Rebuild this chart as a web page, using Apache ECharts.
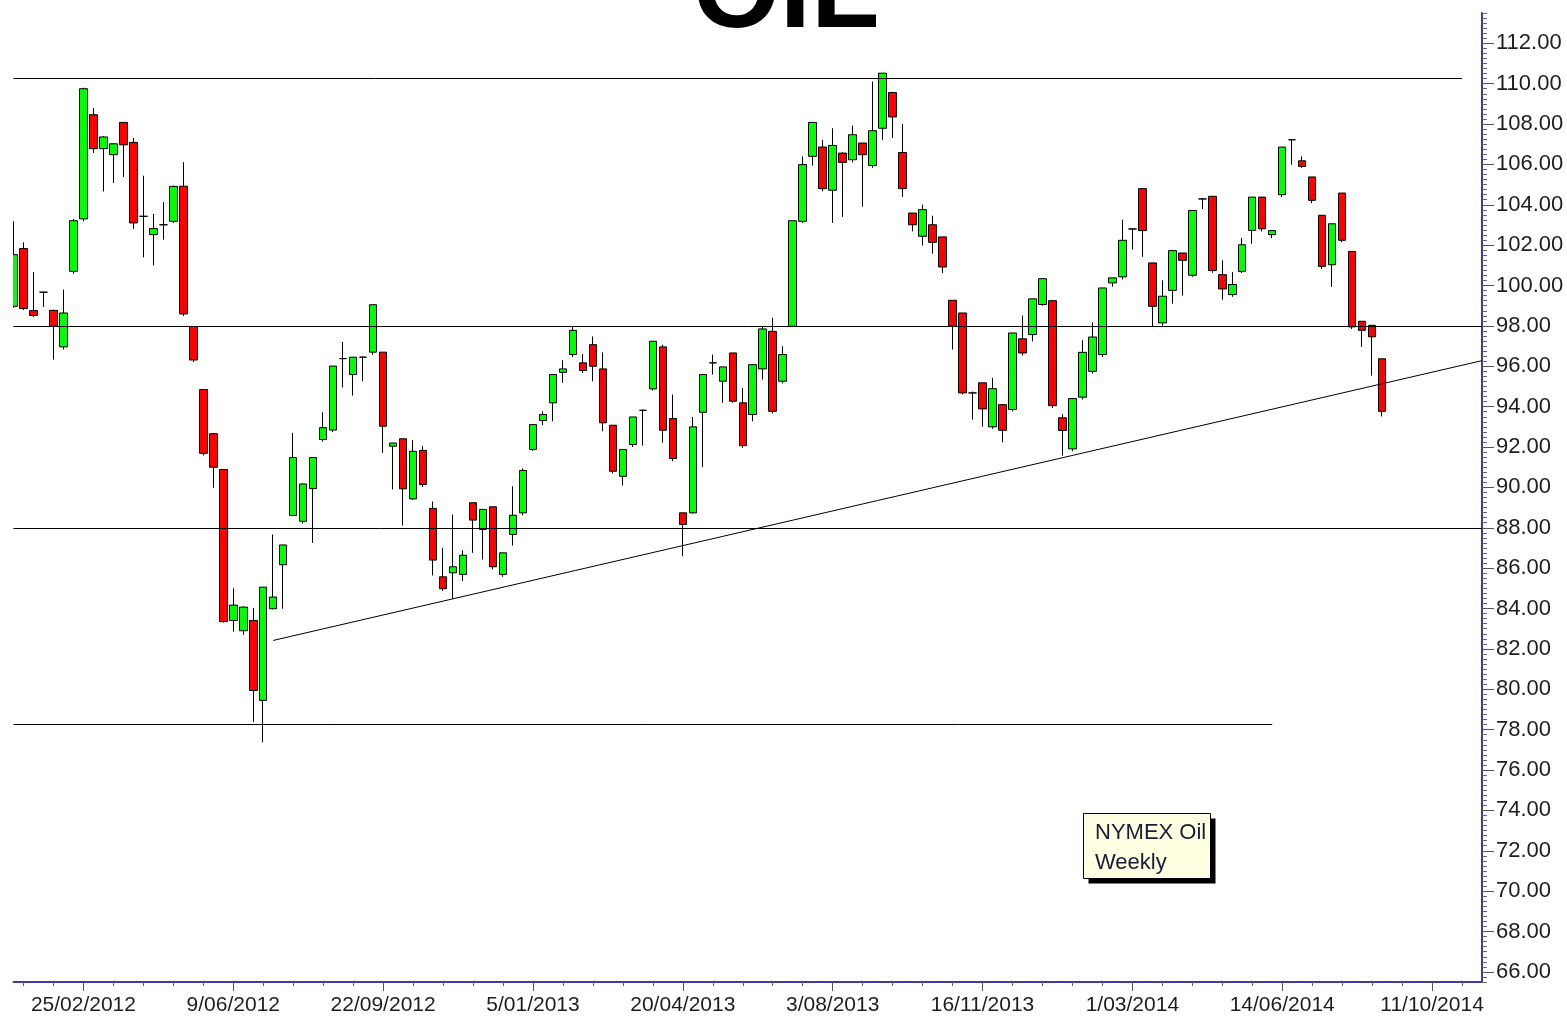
<!DOCTYPE html>
<html>
<head>
<meta charset="utf-8">
<title>OIL</title>
<script src="https://cdn.jsdelivr.net/npm/echarts@6/dist/echarts.min.js"></script>
<style>
  html, body { margin: 0; padding: 0; background: #fff; }
  #chart { width: 1567px; height: 1019px; }
</style>
</head>
<body>
<div id="chart"></div>
<script>
// weekly NYMEX oil candles, first week 7/01/2012
const firstWeek = Date.UTC(2012, 0, 7);
const weekCount = 148; // axis runs a few empty weeks past the last candle

// date labels printed under the axis, one every 15 weeks starting at week 7
const tickLabels = [
  '25/02/2012', '9/06/2012', '22/09/2012', '5/01/2013', '20/04/2013',
  '3/08/2013', '16/11/2013', '1/03/2014', '14/06/2014', '11/10/2014'
];

const opens = [
  98.97, 101.83, 98.76, 99.67, 98.77, 96.96, 100.70, 103.30, 108.46, 106.78,
  106.48, 108.08, 107.09, 103.43, 102.52, 103.01, 103.18, 104.92, 97.97, 94.85,
  92.66, 90.89, 83.41, 82.90, 83.41, 79.45, 83.99, 86.17, 88.61, 88.32,
  89.94, 92.37, 92.84, 96.38, 95.59, 96.45, 96.70, 96.70, 92.04, 92.41,
  89.43, 91.83, 88.96, 85.57, 85.77, 85.69, 89.24, 87.92, 89.04, 85.69,
  87.67, 88.74, 91.88, 93.31, 94.19, 95.70, 96.58, 96.17, 97.07, 95.87,
  93.08, 90.55, 92.12, 93.82, 94.88, 96.96, 93.41, 88.74, 88.74, 93.72,
  96.17, 95.26, 96.66, 94.19, 93.61, 95.87, 97.73, 95.26, 97.98, 103.18,
  106.40, 106.86, 104.72, 106.56, 106.23, 107.06, 105.94, 107.79, 109.56, 106.59,
  103.59, 102.44, 103.01, 102.41, 99.27, 98.64, 94.68, 95.18, 93.00, 94.10,
  93.86, 97.36, 97.57, 99.06, 99.25, 93.45, 91.91, 94.47, 95.75, 96.58,
  100.13, 100.43, 102.80, 104.80, 101.12, 98.15, 99.76, 101.61, 100.51, 104.29,
  104.42, 100.54, 99.55, 100.70, 102.73, 104.38, 102.52, 104.50, 107.22, 106.18,
  105.38, 103.48, 101.03, 104.58, 101.69, 98.23, 98.03, 96.37
];
const closes = [
  101.53, 98.86, 98.52, 99.67, 97.98, 98.64, 103.21, 109.75, 106.78, 107.36,
  107.02, 106.97, 103.10, 103.43, 102.82, 103.01, 104.91, 98.59, 96.31, 91.69,
  91.00, 83.35, 84.17, 84.07, 79.94, 85.06, 84.57, 87.15, 91.48, 90.17,
  91.48, 92.96, 96.01, 96.38, 96.45, 96.45, 99.05, 93.03, 92.20, 89.93,
  91.79, 90.14, 86.40, 84.98, 86.07, 86.64, 88.38, 88.91, 86.07, 86.76,
  88.62, 90.84, 93.11, 93.61, 95.59, 95.87, 97.78, 95.79, 96.00, 93.20,
  90.80, 91.88, 93.49, 93.82, 97.24, 92.83, 91.43, 88.16, 93.00, 95.59,
  96.17, 95.97, 94.27, 92.07, 96.08, 97.85, 93.77, 96.58, 103.21, 105.99,
  108.08, 104.80, 106.94, 106.10, 107.47, 106.48, 107.67, 110.52, 108.35, 104.80,
  103.01, 103.76, 102.14, 100.92, 97.98, 94.68, 94.68, 93.89, 94.89, 92.83,
  97.65, 96.66, 99.34, 100.34, 94.05, 92.82, 94.40, 96.69, 97.45, 99.88,
  100.38, 102.24, 102.80, 102.72, 98.97, 99.47, 101.73, 101.25, 103.72, 104.29,
  100.74, 99.83, 100.05, 102.02, 104.38, 102.81, 102.72, 106.86, 107.22, 105.90,
  104.22, 100.95, 103.06, 102.24, 97.95, 97.78, 97.46, 93.77
];
const lows = [
  98.90, 98.78, 98.44, 98.94, 96.33, 96.83, 100.58, 103.18, 106.57, 104.66,
  105.08, 105.38, 102.80, 101.40, 101.00, 102.27, 103.10, 98.49, 96.21, 91.58,
  89.98, 83.30, 82.86, 82.70, 78.38, 77.37, 83.96, 83.99, 88.60, 88.20,
  87.25, 92.27, 92.74, 94.95, 94.55, 95.26, 96.57, 91.71, 89.90, 88.11,
  89.37, 90.02, 85.64, 84.87, 84.49, 85.36, 86.76, 86.43, 85.94, 85.57,
  87.12, 88.62, 91.80, 93.08, 93.28, 95.18, 96.46, 95.67, 95.26, 92.78,
  90.69, 90.09, 92.00, 92.07, 94.80, 92.21, 91.30, 86.59, 88.70, 91.00,
  95.59, 94.19, 94.19, 91.96, 93.28, 95.34, 93.66, 95.15, 97.98, 103.10,
  105.94, 104.67, 103.10, 103.40, 106.10, 103.90, 105.83, 107.22, 107.31, 104.39,
  102.68, 101.98, 101.58, 100.62, 96.83, 94.60, 93.36, 93.00, 92.90, 92.24,
  93.77, 96.53, 97.23, 99.00, 93.93, 91.58, 91.79, 94.35, 95.64, 96.46,
  99.94, 100.30, 101.78, 101.42, 97.98, 98.01, 99.10, 99.50, 100.43, 103.79,
  100.63, 99.30, 99.44, 100.62, 102.07, 102.68, 102.35, 104.38, 105.99, 105.82,
  104.08, 100.82, 99.93, 102.14, 97.85, 96.96, 95.54, 93.52
];
const highs = [
  103.18, 102.14, 100.67, 99.70, 98.80, 99.80, 103.30, 109.80, 108.79, 107.40,
  107.05, 108.10, 107.31, 105.44, 103.54, 104.14, 104.95, 106.11, 97.97, 94.85,
  92.70, 90.90, 85.00, 84.10, 84.03, 85.06, 87.67, 87.15, 92.70, 90.20,
  91.48, 93.72, 96.01, 97.20, 96.45, 96.50, 99.05, 96.70, 92.20, 92.41,
  92.34, 92.04, 89.30, 87.01, 88.66, 86.88, 89.24, 88.91, 89.04, 86.76,
  90.06, 90.94, 93.11, 93.77, 95.59, 96.30, 97.98, 96.61, 97.48, 96.69,
  93.08, 91.88, 93.49, 93.85, 97.24, 97.07, 94.60, 88.74, 93.49, 95.59,
  96.58, 95.97, 96.66, 94.93, 96.08, 97.98, 98.40, 96.99, 103.21, 106.40,
  108.08, 107.22, 107.79, 106.60, 107.92, 107.06, 110.11, 110.52, 109.56, 108.01,
  103.59, 104.01, 103.46, 102.41, 99.27, 98.64, 94.75, 95.18, 95.43, 94.10,
  97.65, 98.51, 99.34, 100.34, 99.25, 93.62, 94.40, 97.29, 98.18, 99.88,
  100.38, 103.26, 102.85, 104.80, 101.12, 100.26, 101.73, 101.61, 103.72, 104.32,
  104.42, 101.25, 100.66, 102.35, 104.38, 104.38, 102.72, 106.86, 107.25, 106.40,
  105.38, 103.48, 103.06, 104.58, 101.69, 98.23, 98.03, 96.37
];

// hand drawn support / resistance levels: [startWeek, endWeek, price]
const levels = [
  [0, 145, 110.25],
  [0, 147, 98],
  [0, 147, 88],
  [0, 126, 78.25]
];
// rising trend line: [week, price] at each end
const trendStart = [26, 82.42];
const trendEnd = [147, 96.28];

const categories = [];
for (let i = 0; i < weekCount; i++) {
  const d = new Date(firstWeek + i * 7 * 86400000);
  categories.push(d.getUTCDate() + '/' + String(d.getUTCMonth() + 1).padStart(2, '0') + '/' + d.getUTCFullYear());
}

const candles = opens.map((o, i) => [o, closes[i], lows[i], highs[i]]);

const lineStyle = { color: '#000', width: 1, type: 'solid' };
const markData = levels.map(l => [
  { coord: [l[0], l[2]], lineStyle },
  { coord: [l[1], l[2]] }
]);
markData.push([{ coord: trendStart, lineStyle }, { coord: trendEnd }]);

const isLabelWeek = (i) => i % 15 === 7;

const font = '"Liberation Sans", Arial, sans-serif';
const axisBlue = '#3b3ba6';
const textColor = '#1e1b22';

const chart = echarts.init(document.getElementById('chart'));
chart.setOption({
  animation: false,
  backgroundColor: '#fff',
  grid: [
    { left: 13.5, right: 85, top: 13, height: 969 },
    { left: 13.5, right: 85, top: 43.28, height: 928.6 }
  ],
  xAxis: [
    {
      type: 'category', gridIndex: 0, data: categories, boundaryGap: false,
      axisLine: { lineStyle: { color: axisBlue, width: 2 } },
      axisTick: { interval: (i) => i % 3 === 1, length: 4, lineStyle: { color: '#666' } },
      axisLabel: {
        interval: isLabelWeek, margin: 13,
        fontFamily: font, fontSize: 21, color: textColor,
        formatter: (v, i) => tickLabels[(i - 7) / 15]
      },
      splitLine: { show: false }
    },
    {
      type: 'category', gridIndex: 0, data: categories, boundaryGap: false, position: 'bottom',
      axisLine: { show: false },
      axisTick: { interval: isLabelWeek, length: 9, lineStyle: { color: '#555' } },
      axisLabel: { show: false },
      splitLine: { show: false }
    },
    { type: 'category', gridIndex: 1, show: false, data: ['a'] }
  ],
  yAxis: [
    {
      type: 'value', gridIndex: 0, position: 'right', min: 65.5, max: 113.5, interval: 0.25,
      axisLine: { show: true, onZero: false, lineStyle: { color: axisBlue, width: 2 } },
      axisTick: { show: true, length: 5, lineStyle: { color: '#666' } },
      axisLabel: { show: false },
      splitLine: { show: false }
    },
    {
      type: 'value', gridIndex: 1, position: 'right', min: 66, max: 112, interval: 2,
      axisLine: { show: false, onZero: false },
      axisTick: { show: true, length: 12, lineStyle: { color: '#555' } },
      axisLabel: {
        margin: 14, fontFamily: font, fontSize: 22, color: textColor,
        formatter: (v) => v.toFixed(2)
      },
      splitLine: { show: false }
    }
  ],
  series: [
    {
      type: 'candlestick',
      xAxisIndex: 0,
      yAxisIndex: 0,
      data: candles,
      barWidth: 8,
      clip: true,
      itemStyle: {
        color: '#00ff00', color0: '#ff0000',
        borderColor: '#000', borderColor0: '#000', borderColorDoji: '#000',
        borderWidth: 1
      },
      markLine: {
        silent: true, symbol: ['none', 'none'], label: { show: false },
        lineStyle: { color: '#000', width: 1, type: 'solid' },
        data: markData
      }
    }
  ],
  graphic: [
    // hide the part of the first candle that falls left of the plot
    { type: 'rect', z: 100, shape: { x: 0, y: 0, width: 13, height: 980 }, style: { fill: '#fff' } },
    {
      type: 'text', x: 786, y: -4, z: 100,
      style: {
        text: 'OIL', font: 'bold 112px ' + font, fill: '#000',
        align: 'center', verticalAlign: 'middle', textAlign: 'center', textVerticalAlign: 'middle'
      }
    },
    { type: 'rect', z: 100, shape: { x: 1088.5, y: 818.5, width: 127, height: 65 }, style: { fill: '#000' } },
    {
      type: 'rect', z: 100, shape: { x: 1083.5, y: 813.5, width: 127, height: 65 },
      style: { fill: '#ffffe1', stroke: '#000', lineWidth: 1 }
    },
    {
      type: 'text', x: 1095, y: 818, z: 100,
      style: {
        text: 'NYMEX Oil\nWeekly', font: '22px ' + font, fill: '#1d1b3a', lineHeight: 30,
        align: 'left', verticalAlign: 'top', textAlign: 'left', textVerticalAlign: 'top'
      }
    }
  ]
});
</script>
</body>
</html>
